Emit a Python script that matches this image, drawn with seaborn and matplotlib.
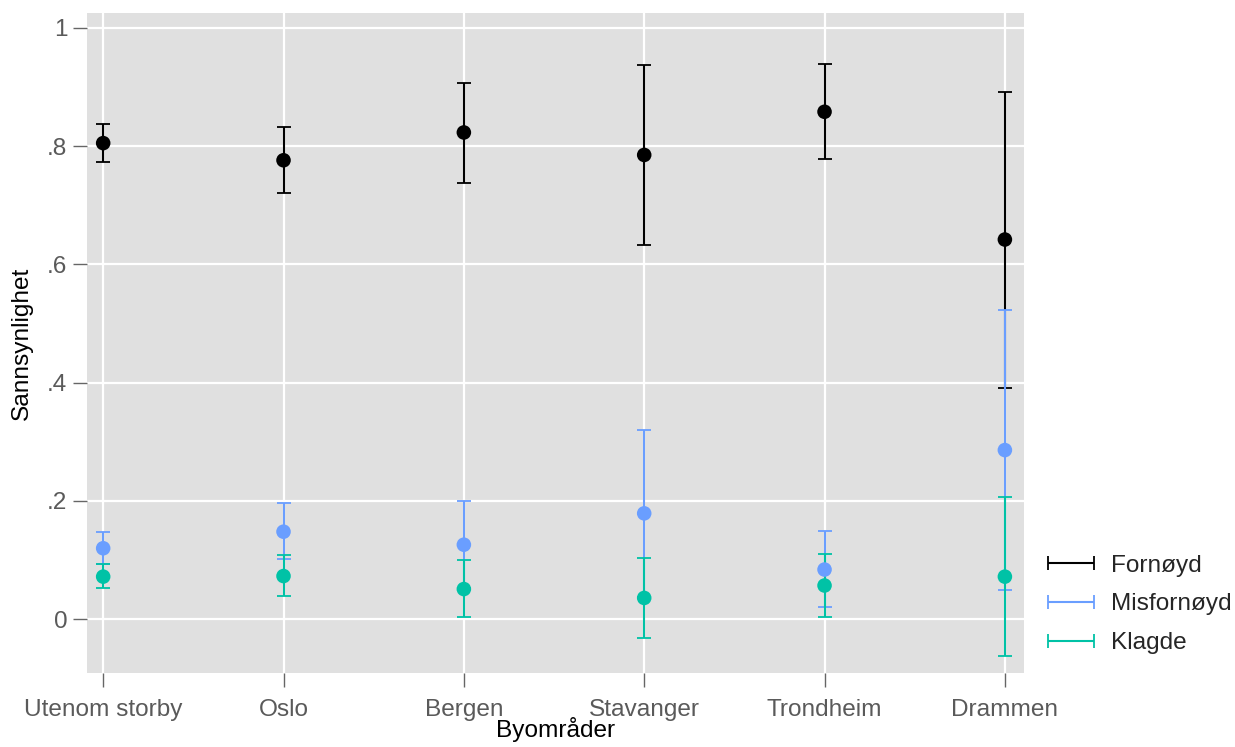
import numpy as np
import pandas as pd
import seaborn as sns
import matplotlib.pyplot as plt
from matplotlib.legend_handler import HandlerErrorbar

# Data
byer = ['Utenom storby', 'Oslo', 'Bergen', 'Stavanger', 'Trondheim', 'Drammen']
grupper = ['Fornøyd', 'Misfornøyd', 'Klagde']

fornoyd = [0.805, 0.776, 0.823, 0.785, 0.858, 0.642]
fornoyd_lo = [0.773, 0.720, 0.738, 0.633, 0.778, 0.391]
fornoyd_hi = [0.837, 0.832, 0.906, 0.937, 0.939, 0.892]

misfornoyd = [0.120, 0.148, 0.126, 0.179, 0.084, 0.286]
misfornoyd_lo = [0.093, 0.101, 0.052, 0.037, 0.020, 0.050]
misfornoyd_hi = [0.147, 0.196, 0.200, 0.320, 0.149, 0.522]

klagde = [0.072, 0.073, 0.051, 0.036, 0.057, 0.072]
klagde_lo = [0.052, 0.039, 0.003, -0.032, 0.003, -0.062]
klagde_hi = [0.094, 0.109, 0.100, 0.104, 0.110, 0.206]

farger = {'Fornøyd': '#000000', 'Misfornøyd': '#6a9eff', 'Klagde': '#00c2a6'}

df = pd.DataFrame({
    'by': byer * 3,
    'gruppe': np.repeat(grupper, len(byer)),
    'p': fornoyd + misfornoyd + klagde,
    'lo': fornoyd_lo + misfornoyd_lo + klagde_lo,
    'hi': fornoyd_hi + misfornoyd_hi + klagde_hi,
})

sns.set_theme(style='darkgrid', rc={'axes.facecolor': '#e0e0e0',
                                     'grid.color': 'white',
                                     'grid.linewidth': 1.6})
plt.rcParams['font.family'] = ['Liberation Sans', 'DejaVu Sans']

fig = plt.figure(figsize=(12.35, 7.47), dpi=100)
ax = fig.add_axes([0.0704, 0.099, 0.7586, 0.8836])

pos = {b: i for i, b in enumerate(byer)}
handles = []
for g in grupper:
    d = df[df.gruppe == g]
    x = d.by.map(pos).values
    ax.errorbar(x, d.p, yerr=[d.p - d.lo, d.hi - d.p], fmt='none',
                ecolor=farger[g], elinewidth=1.5, capsize=5, capthick=1.3, zorder=3)
    sns.scatterplot(x=x, y=d.p.values, color=farger[g], s=110,
                    edgecolor='none', ax=ax, zorder=4)
    # horizontal errorbar handle for the legend
    h = ax.errorbar([np.nan], [np.nan], xerr=[1], fmt='none', ecolor=farger[g],
                    elinewidth=1.5, capsize=5, capthick=1.3)
    handles.append(h)

ax.set_xlim(-0.09, 5.105)
ax.set_ylim(-0.091, 1.025)
ax.set_xticks(range(len(byer)))
ax.set_xticklabels(byer)
ax.set_yticks([0, 0.2, 0.4, 0.6, 0.8, 1.0])
ax.set_yticklabels(['0', '.2', '.4', '.6', '.8', '1'])
ax.tick_params(axis='both', labelsize=17.6, labelcolor='#5a5a5a', color='#666666')
ax.tick_params(axis='y', length=10, width=1, left=True, pad=4)
ax.tick_params(axis='x', length=10, width=1, bottom=True, pad=9)
ax.set_xlabel('Byområder', fontsize=17.6, color='black', labelpad=-3)
ax.set_ylabel('Sannsynlighet', fontsize=17.6, color='black', labelpad=10)
for s in ax.spines.values():
    s.set_visible(False)

fig.legend(handles, grupper, loc='center left', bbox_to_anchor=(0.8275, 0.191),
           frameon=False, fontsize=17.6, handlelength=2.2, labelspacing=0.68,
           handletextpad=0.55,
           handler_map={type(handles[0]): HandlerErrorbar(xerr_size=0.95)})

fig.savefig('out.png', dpi=100)
